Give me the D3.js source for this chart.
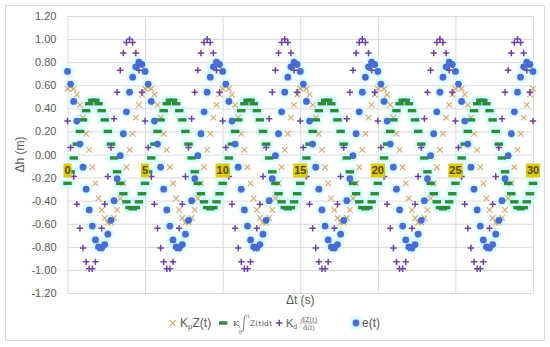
<!DOCTYPE html>
<html>
<head>
<meta charset="utf-8">
<script src="https://cdnjs.cloudflare.com/ajax/libs/d3/7.8.5/d3.min.js"></script>
<style>
  body { margin: 0; background: #fff; }
  svg { display: block; font-family: "Liberation Sans", Arial, sans-serif; }
</style>
</head>
<body>
<svg id="chart" width="550" height="347"></svg>
<script>
// sampling step of the series (s), values read per sample
const tStep = 0.2;
const xTicks = [0, 5, 10, 15, 20, 25, 30];
const xTickLabels = ["0", "5", "10", "15", "20", "25", "30"];
const yTicks = [-1.2, -1.0, -0.8, -0.6, -0.4, -0.2, 0, 0.2, 0.4, 0.6, 0.8, 1.0, 1.2];

const kpZ = [
  0.57, 0.59, 0.57, 0.52, 0.43, 0.32, 0.18, 0.04, -0.11, -0.25, -0.38, -0.48, -0.55, -0.59, -0.59, -0.55, -0.48, -0.38, -0.25, -0.11, 0.04, 0.18, 0.32, 0.43, 0.52,
  0.57, 0.59, 0.57, 0.52, 0.43, 0.32, 0.18, 0.04, -0.11, -0.25, -0.38, -0.48, -0.55, -0.59, -0.59, -0.55, -0.48, -0.38, -0.25, -0.11, 0.04, 0.18, 0.32, 0.43, 0.52,
  0.57, 0.59, 0.57, 0.52, 0.43, 0.32, 0.18, 0.04, -0.11, -0.25, -0.38, -0.48, -0.55, -0.59, -0.59, -0.55, -0.48, -0.38, -0.25, -0.11, 0.04, 0.18, 0.32, 0.43, 0.52,
  0.57, 0.59, 0.57, 0.52, 0.43, 0.32, 0.18, 0.04, -0.11, -0.25, -0.38, -0.48, -0.55, -0.59, -0.59, -0.55, -0.48, -0.38, -0.25, -0.11, 0.04, 0.18, 0.32, 0.43, 0.52,
  0.57, 0.59, 0.57, 0.52, 0.43, 0.32, 0.18, 0.04, -0.11, -0.25, -0.38, -0.48, -0.55, -0.59, -0.59, -0.55, -0.48, -0.38, -0.25, -0.11, 0.04, 0.18, 0.32, 0.43, 0.52,
  0.57, 0.59, 0.57, 0.52, 0.43, 0.32, 0.18, 0.04, -0.11, -0.25, -0.38, -0.48, -0.55, -0.59, -0.59, -0.55, -0.48, -0.38, -0.25, -0.11, 0.04, 0.18, 0.32, 0.43, 0.52,
  0.57
];

const kiInt = [
  -0.25, -0.15, -0.03, 0.09, 0.20, 0.30, 0.38, 0.44, 0.47, 0.47, 0.44, 0.38, 0.30, 0.20, 0.09, -0.03, -0.15, -0.25, -0.34, -0.41, -0.46, -0.47, -0.46, -0.41, -0.34,
  -0.25, -0.15, -0.03, 0.09, 0.20, 0.30, 0.38, 0.44, 0.47, 0.47, 0.44, 0.38, 0.30, 0.20, 0.09, -0.03, -0.15, -0.25, -0.34, -0.41, -0.46, -0.47, -0.46, -0.41, -0.34,
  -0.25, -0.15, -0.03, 0.09, 0.20, 0.30, 0.38, 0.44, 0.47, 0.47, 0.44, 0.38, 0.30, 0.20, 0.09, -0.03, -0.15, -0.25, -0.34, -0.41, -0.46, -0.47, -0.46, -0.41, -0.34,
  -0.25, -0.15, -0.03, 0.09, 0.20, 0.30, 0.38, 0.44, 0.47, 0.47, 0.44, 0.38, 0.30, 0.20, 0.09, -0.03, -0.15, -0.25, -0.34, -0.41, -0.46, -0.47, -0.46, -0.41, -0.34,
  -0.25, -0.15, -0.03, 0.09, 0.20, 0.30, 0.38, 0.44, 0.47, 0.47, 0.44, 0.38, 0.30, 0.20, 0.09, -0.03, -0.15, -0.25, -0.34, -0.41, -0.46, -0.47, -0.46, -0.41, -0.34,
  -0.25, -0.15, -0.03, 0.09, 0.20, 0.30, 0.38, 0.44, 0.47, 0.47, 0.44, 0.38, 0.30, 0.20, 0.09, -0.03, -0.15, -0.25, -0.34, -0.41, -0.46, -0.47, -0.46, -0.41, -0.34,
  -0.25
];

const kdDer = [
  0.29, 0.06, -0.19, -0.43, -0.64, -0.81, -0.93, -0.99, -0.99, -0.93, -0.81, -0.64, -0.43, -0.19, 0.06, 0.31, 0.54, 0.73, 0.88, 0.97, 1.00, 0.97, 0.88, 0.73, 0.54,
  0.29, 0.06, -0.19, -0.43, -0.64, -0.81, -0.93, -0.99, -0.99, -0.93, -0.81, -0.64, -0.43, -0.19, 0.06, 0.31, 0.54, 0.73, 0.88, 0.97, 1.00, 0.97, 0.88, 0.73, 0.54,
  0.29, 0.06, -0.19, -0.43, -0.64, -0.81, -0.93, -0.99, -0.99, -0.93, -0.81, -0.64, -0.43, -0.19, 0.06, 0.31, 0.54, 0.73, 0.88, 0.97, 1.00, 0.97, 0.88, 0.73, 0.54,
  0.29, 0.06, -0.19, -0.43, -0.64, -0.81, -0.93, -0.99, -0.99, -0.93, -0.81, -0.64, -0.43, -0.19, 0.06, 0.31, 0.54, 0.73, 0.88, 0.97, 1.00, 0.97, 0.88, 0.73, 0.54,
  0.29, 0.06, -0.19, -0.43, -0.64, -0.81, -0.93, -0.99, -0.99, -0.93, -0.81, -0.64, -0.43, -0.19, 0.06, 0.31, 0.54, 0.73, 0.88, 0.97, 1.00, 0.97, 0.88, 0.73, 0.54,
  0.29, 0.06, -0.19, -0.43, -0.64, -0.81, -0.93, -0.99, -0.99, -0.93, -0.81, -0.64, -0.43, -0.19, 0.06, 0.31, 0.54, 0.73, 0.88, 0.97, 1.00, 0.97, 0.88, 0.73, 0.54,
  0.29
];

const eT = [
  0.72, 0.61, 0.46, 0.29, 0.09, -0.11, -0.30, -0.48, -0.62, -0.74, -0.80, -0.81, -0.78, -0.69, -0.57, -0.40, -0.21, -0.01, 0.18, 0.37, 0.54, 0.67, 0.76, 0.80, 0.78,
  0.72, 0.61, 0.46, 0.29, 0.09, -0.11, -0.30, -0.48, -0.62, -0.74, -0.80, -0.81, -0.78, -0.69, -0.57, -0.40, -0.21, -0.01, 0.18, 0.37, 0.54, 0.67, 0.76, 0.80, 0.78,
  0.72, 0.61, 0.46, 0.29, 0.09, -0.11, -0.30, -0.48, -0.62, -0.74, -0.80, -0.81, -0.78, -0.69, -0.57, -0.40, -0.21, -0.01, 0.18, 0.37, 0.54, 0.67, 0.76, 0.80, 0.78,
  0.72, 0.61, 0.46, 0.29, 0.09, -0.11, -0.30, -0.48, -0.62, -0.74, -0.80, -0.81, -0.78, -0.69, -0.57, -0.40, -0.21, -0.01, 0.18, 0.37, 0.54, 0.67, 0.76, 0.80, 0.78,
  0.72, 0.61, 0.46, 0.29, 0.09, -0.11, -0.30, -0.48, -0.62, -0.74, -0.80, -0.81, -0.78, -0.69, -0.57, -0.40, -0.21, -0.01, 0.18, 0.37, 0.54, 0.67, 0.76, 0.80, 0.78,
  0.72, 0.61, 0.46, 0.29, 0.09, -0.11, -0.30, -0.48, -0.62, -0.74, -0.80, -0.81, -0.78, -0.69, -0.57, -0.40, -0.21, -0.01, 0.18, 0.37, 0.54, 0.67, 0.76, 0.80, 0.78,
  0.72
];

const colors = { kp: "#d9a66b", ki: "#2e8b3c", kd: "#7040a4", e: "#4a6bd3", glow: "#d2fbfb", grid: "#d9d9d9", text: "#595959" };

const svg = d3.select("#chart");

svg.append("rect")
  .attr("x", 5.5).attr("y", 5.5)
  .attr("width", 539).attr("height", 335)
  .attr("fill", "#fff").attr("stroke", colors.grid);

const defs = svg.append("defs");
defs.append("filter").attr("id", "soft")
  .append("feGaussianBlur").attr("stdDeviation", 0.8);

const x = d3.scaleLinear().domain([0, 30]).range([67.5, 533]);
const y = d3.scaleLinear().domain([-1.2, 1.2]).range([293, 16]);

// gridlines
const gridY = svg.append("g")
  .attr("transform", `translate(${x(0)},0)`)
  .call(d3.axisLeft(y).tickValues(yTicks).tickSize(-(x(30) - x(0))).tickFormat(""));
gridY.select(".domain").remove();
gridY.selectAll("line").attr("stroke", colors.grid);

const gridX = svg.append("g")
  .attr("transform", `translate(0,${y(-1.2)})`)
  .call(d3.axisBottom(x).tickValues(xTicks).tickSize(-(y(-1.2) - y(1.2))).tickFormat(""));
gridX.select(".domain").remove();
gridX.selectAll("line").attr("stroke", colors.grid);

// y tick labels
const yAxis = svg.append("g")
  .attr("transform", `translate(${x(0)},0)`)
  .call(d3.axisLeft(y).tickValues(yTicks).tickSize(0).tickPadding(11).tickFormat(d => d.toFixed(2)));
yAxis.select(".domain").remove();
yAxis.selectAll("text")
  .attr("fill", colors.text)
  .style("font-size", "11px")
  .style("font-family", "'Liberation Sans', Arial, sans-serif");

// axis titles
svg.append("text")
  .attr("transform", `translate(24,${(y(1.2) + y(-1.2)) / 2}) rotate(-90)`)
  .attr("text-anchor", "middle")
  .attr("fill", colors.text)
  .style("font-size", "12px")
  .text("Δh (m)");

svg.append("text")
  .attr("x", (x(0) + x(30)) / 2)
  .attr("y", 304)
  .attr("text-anchor", "middle")
  .attr("fill", colors.text)
  .style("font-size", "12px")
  .text("Δt (s)");

const toPts = arr => arr.map((v, i) => ({ t: i * tStep, v: v }));
const ptsKp = toPts(kpZ);
const ptsKi = toPts(kiInt);
const ptsKd = toPts(kdDer);
const ptsE = toPts(eT);

// glow behind blue circles and green dashes
const glow = svg.append("g").attr("filter", "url(#soft)");
glow.selectAll("rect.gk")
  .data(ptsKi)
  .enter().append("rect")
  .attr("x", d => x(d.t) - 6.5)
  .attr("y", d => y(d.v) - 4.5)
  .attr("width", 13).attr("height", 9)
  .attr("fill", colors.glow);
glow.selectAll("circle.ge")
  .data(ptsE)
  .enter().append("circle")
  .attr("cx", d => x(d.t))
  .attr("cy", d => y(d.v))
  .attr("r", 5.8)
  .attr("fill", colors.glow);

// KpZ(t) : x markers
svg.append("g").selectAll("path")
  .data(ptsKp)
  .enter().append("path")
  .attr("d", d => {
    const cx = x(d.t), cy = y(d.v), s = 2.8;
    return `M${cx - s},${cy - s}L${cx + s},${cy + s}M${cx - s},${cy + s}L${cx + s},${cy - s}`;
  })
  .attr("stroke", colors.kp)
  .attr("stroke-width", 1.1)
  .attr("fill", "none");

// integral : dash markers
svg.append("g").selectAll("rect")
  .data(ptsKi)
  .enter().append("rect")
  .attr("x", d => x(d.t) - 4.2)
  .attr("y", d => y(d.v) - 1.7)
  .attr("width", 8.4).attr("height", 3.4)
  .attr("fill", colors.ki);

// derivative : plus markers
svg.append("g").selectAll("path")
  .data(ptsKd)
  .enter().append("path")
  .attr("d", d => {
    const cx = x(d.t), cy = y(d.v), s = 3.2;
    return `M${cx - s},${cy}L${cx + s},${cy}M${cx},${cy - s}L${cx},${cy + s}`;
  })
  .attr("stroke", colors.kd)
  .attr("stroke-width", 1.5)
  .attr("fill", "none");

// e(t) : circles
svg.append("g").selectAll("circle")
  .data(ptsE)
  .enter().append("circle")
  .attr("cx", d => x(d.t))
  .attr("cy", d => y(d.v))
  .attr("r", 3.4)
  .attr("fill", colors.e);

// x labels sitting on the zero line
const xl = svg.append("g").selectAll("g")
  .data(xTicks)
  .enter().append("g")
  .attr("transform", d => `translate(${x(d)},${y(0) + 16})`);
xl.each(function (d, i) {
  const g = d3.select(this);
  const rect = g.append("rect").attr("fill", "#dacb0c");
  const txt = g.append("text")
    .attr("text-anchor", "middle")
    .attr("dy", "0.36em")
    .attr("fill", "#5a4700")
    .style("font-size", "11px")
    .style("font-weight", "bold")
    .text(xTickLabels[i]);
  const bb = txt.node().getBBox();
  rect.attr("x", bb.x - 1).attr("y", -7).attr("width", bb.width + 2).attr("height", 14);
});

// legend
const leg = svg.append("g").attr("fill", colors.text);
const ly = 323;

leg.append("path")
  .attr("d", `M170,${ly - 2.8}L175.6,${ly + 2.8}M170,${ly + 2.8}L175.6,${ly - 2.8}`)
  .attr("stroke", colors.kp).attr("stroke-width", 1.1);
const t1 = leg.append("text").attr("x", 180).attr("y", ly + 4).style("font-size", "12px");
t1.append("tspan").text("K");
t1.append("tspan").attr("dy", 2).style("font-size", "8px").text("p");
t1.append("tspan").attr("dy", -2).text("Z(t)");

leg.append("rect").attr("x", 219).attr("y", ly - 1.7).attr("width", 8.4).attr("height", 3.4).attr("fill", colors.ki);
const serif = "'DejaVu Serif', 'Liberation Serif', serif";
const f1 = leg.append("g").style("font-family", serif);
f1.append("text").attr("x", 233).attr("y", ly + 3).style("font-size", "8px").text("K");
f1.append("text").attr("x", 238.5).attr("y", ly + 5).style("font-size", "5px").text("i");
// integral sign drawn as a stroke
f1.append("path")
  .attr("d", `M247,${ly - 7}c-1.6,-1 -2.6,0 -2.8,2L243.6,${ly + 6}c-0.2,2 -1.2,3 -2.8,2`)
  .attr("stroke", colors.text).attr("stroke-width", 0.8).attr("fill", "none");
f1.append("text").attr("x", 247.5).attr("y", ly - 5).style("font-size", "5px").text("t");
f1.append("text").attr("x", 238.5).attr("y", ly + 11).style("font-size", "5px").text("0");
f1.append("text").attr("x", 250).attr("y", ly + 3).style("font-size", "7.5px").text("Z(t)dt");

leg.append("path")
  .attr("d", `M${276},${ly}L${282.4},${ly}M${279.2},${ly - 3.2}L${279.2},${ly + 3.2}`)
  .attr("stroke", colors.kd).attr("stroke-width", 1.5);
const t3 = leg.append("text").attr("x", 286).attr("y", ly + 4).style("font-size", "11px");
t3.append("tspan").text("K");
t3.append("tspan").attr("dy", 2).style("font-size", "7px").text("d");
const f2 = leg.append("g").style("font-family", serif).style("font-size", "6.5px").attr("text-anchor", "middle");
f2.append("text").attr("x", 309).attr("y", ly - 1.5).text("dZ(t)");
f2.append("line").attr("x1", 300).attr("x2", 318).attr("y1", ly).attr("y2", ly).attr("stroke", colors.text).attr("stroke-width", 0.5);
f2.append("text").attr("x", 309).attr("y", ly + 6.5).text("d(t)");

leg.append("rect").attr("x", 350).attr("y", ly - 6).attr("width", 12).attr("height", 12).attr("fill", colors.glow).attr("filter", "url(#soft)");
leg.append("circle").attr("cx", 356).attr("cy", ly).attr("r", 3.4).attr("fill", colors.e);
leg.append("text").attr("x", 362).attr("y", ly + 4).style("font-size", "12px").text("e(t)");
</script>
</body>
</html>
